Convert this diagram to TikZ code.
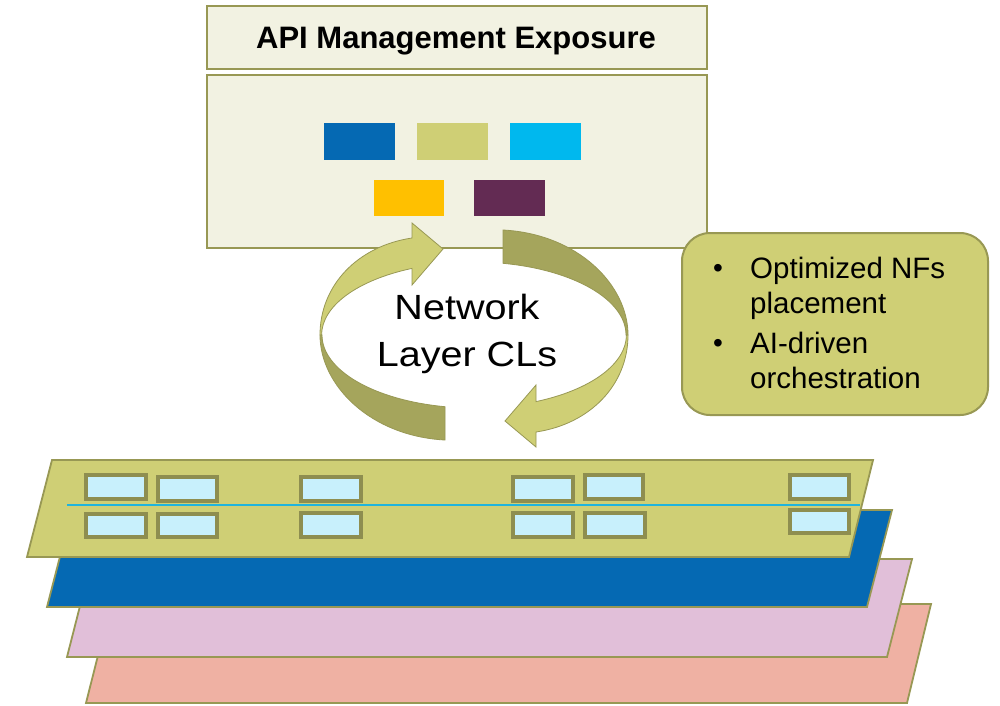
\documentclass[tikz,border=0pt]{standalone}
\usepackage{fontspec}
\setmainfont{Liberation Sans}
\definecolor{cream}{HTML}{F2F2E2}
\definecolor{olive}{HTML}{989854}
\definecolor{slotedge}{HTML}{8E8E50}
\definecolor{khaki}{HTML}{CFCF75}
\definecolor{darkolive}{HTML}{A5A55C}
\definecolor{paleblue}{HTML}{C8F0FC}
\definecolor{deepblue}{HTML}{0569B3}
\definecolor{skyblue}{HTML}{00B8EE}
\definecolor{amber}{HTML}{FFC000}
\definecolor{plum}{HTML}{632B53}
\definecolor{pinklayer}{HTML}{E1BFD9}
\definecolor{salmonlayer}{HTML}{EFB1A3}
\definecolor{cyanline}{HTML}{1FB4DE}
\newcommand{\drawribbonpair}{%
  \filldraw[ribbondark] (320,335)
    .. controls (320,385) and (370,436) .. (445,440)
    -- (445,406.7)
    arc[start angle=101, end angle=180, x radius=152, y radius=73] -- cycle;
  \filldraw[ribbonlight] (412,223) -- (443,249) -- (412,285) -- (412,268.4)
    arc[start angle=246.1, end angle=180, x radius=152, y radius=73]
    -- (320,335)
    .. controls (320,285) and (358,246) .. (412,238) -- cycle;
}
\begin{document}
\begin{tikzpicture}[x=1pt,y=-1pt,
  panel/.style={draw=olive, line width=2, fill=cream, inner sep=0pt},
  tile/.style={inner sep=0pt, minimum width=71pt, minimum height=37pt},
  slot/.style={draw=slotedge, line width=3.2, fill=paleblue, inner sep=0pt, minimum width=60pt, minimum height=24pt},
  layer/.style={draw=olive, line width=1.8},
  ribbondark/.style={fill=darkolive, draw=olive, line width=0.8},
  ribbonlight/.style={fill=khaki, draw=olive, line width=0.8},
  bigtext/.style={font=\fontsize{35}{40}\selectfont, inner sep=0pt, anchor=base, xscale=1.13},
  notetext/.style={font=\fontsize{29.5}{34}\selectfont, inner sep=0pt, anchor=base west},
  bullet/.style={font=\fontsize{28}{32}\selectfont, inner sep=0pt, anchor=base}
]
\useasboundingbox (0,0) rectangle (1000,705);
\fill[white] (0,0) rectangle (1000,705);

% top panels
\node[panel, minimum width=500pt, minimum height=63pt] (title) at (457,37.5) {};
\node[font=\fontsize{31}{36}\selectfont\bfseries, inner sep=0pt, anchor=base] (titletext) at (456,48) {API Management Exposure};
\node[panel, minimum width=500pt, minimum height=173pt] (apibox) at (457,161.5) {};
\node[tile, fill=deepblue] (t1) at (359.5,141.5) {};
\node[tile, fill=khaki] (t2) at (452.5,141.5) {};
\node[tile, fill=skyblue] (t3) at (545.5,141.5) {};
\node[tile, fill=amber, minimum width=70pt, minimum height=36pt] (t4) at (409,198) {};
\node[tile, fill=plum, minimum height=36pt] (t5) at (509.5,198) {};

% circular arrows
\drawribbonpair
\begin{scope}[rotate around={180:(474,335)}]
\drawribbonpair
\end{scope}
\node[bigtext] (net1) at (467,319) {Network};
\node[bigtext] (net2) at (467,366) {Layer CLs};

% callout
\node[draw=olive, line width=2, fill=khaki, rounded corners=28pt, minimum width=306pt, minimum height=182pt] (note) at (835,324) {};
\node[bullet] (b1) at (718,277) {•};
\node[notetext] (n1) at (750,278) {Optimized NFs};
\node[notetext] (n2) at (750,313) {placement};
\node[bullet] (b2) at (718,352) {•};
\node[notetext] (n3) at (750,353) {AI-driven};
\node[notetext] (n4) at (750,388) {orchestration};

% layers
\draw[layer, fill=salmonlayer] (111,604) -- (931,604) -- (907,703) -- (86,703) -- cycle;
\draw[layer, fill=pinklayer] (92,559) -- (912,559) -- (887,657) -- (67,657) -- cycle;
\draw[layer, fill=deepblue] (72,510) -- (892,510) -- (867,607) -- (47,607) -- cycle;
\draw[layer, fill=khaki] (52,460) -- (873,460) -- (849,557) -- (27,557) -- cycle;

\coordinate (la) at (67,505);
\coordinate (lb) at (860,505);
\draw[cyanline, line width=1.2] (la) -- (lb);

\node[slot] (s1) at (116,487) {};
\node[slot, minimum width=59pt] (s2) at (187.5,489) {};
\node[slot] (s3) at (331,489) {};
\node[slot] (s4) at (543,489) {};
\node[slot, minimum width=58pt] (s5) at (614,487) {};
\node[slot, minimum width=59pt] (s6) at (819.5,487) {};
\node[slot, minimum height=23pt] (s7) at (116,525.5) {};
\node[slot, minimum width=59pt, minimum height=23pt] (s8) at (187.5,525.5) {};
\node[slot] (s9) at (331,525) {};
\node[slot] (s10) at (543,525) {};
\node[slot] (s11) at (615,525) {};
\node[slot, minimum width=59pt, minimum height=23pt] (s12) at (819.5,521.5) {};
\end{tikzpicture}
\end{document}
